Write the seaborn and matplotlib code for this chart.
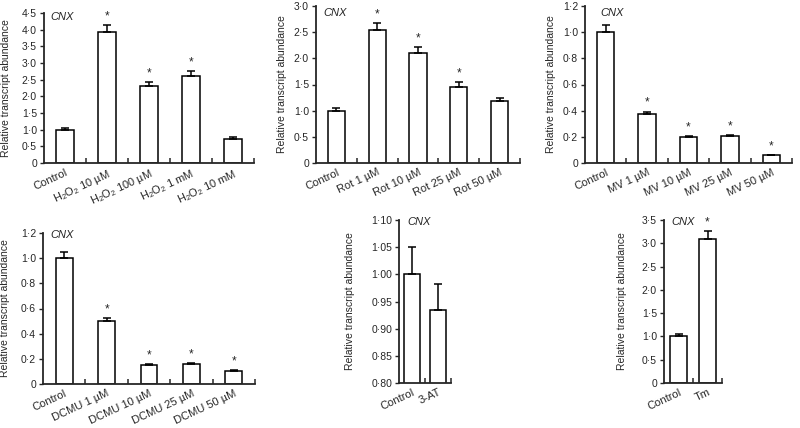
import matplotlib
matplotlib.use("Agg")
import matplotlib.pyplot as plt
from matplotlib.ticker import FixedLocator, FuncFormatter
import numpy as np
import pandas as pd
import seaborn as sns

# values
h2o2_labels = ["Control", "H$_2$O$_2$ 10 µM", "H$_2$O$_2$ 100 µM", "H$_2$O$_2$ 1 mM", "H$_2$O$_2$ 10 mM"]
h2o2_means = [1.0, 3.94, 2.31, 2.62, 0.73]
h2o2_err = [0.05, 0.19, 0.11, 0.13, 0.04]
h2o2_sig = [False, True, True, True, False]

rot_labels = ["Control", "Rot 1 µM", "Rot 10 µM", "Rot 25 µM", "Rot 50 µM"]
rot_means = [1.0, 2.55, 2.11, 1.46, 1.18]
rot_err = [0.05, 0.13, 0.10, 0.08, 0.06]
rot_sig = [False, True, True, True, False]

mv_labels = ["Control", "MV 1 µM", "MV 10 µM", "MV 25 µM", "MV 50 µM"]
mv_means = [1.0, 0.375, 0.197, 0.205, 0.06]
mv_err = [0.055, 0.018, 0.008, 0.008, 0.003]
mv_sig = [False, True, True, True, True]

dcmu_labels = ["Control", "DCMU 1 µM", "DCMU 10 µM", "DCMU 25 µM", "DCMU 50 µM"]
dcmu_means = [1.0, 0.50, 0.153, 0.160, 0.105]
dcmu_err = [0.05, 0.025, 0.007, 0.006, 0.005]
dcmu_sig = [False, True, True, True, True]

at_labels = ["Control", "3-AT"]
at_means = [1.0, 0.935]
at_err = [0.05, 0.048]
at_sig = [False, False]

tm_labels = ["Control", "Tm"]
tm_means = [1.0, 3.10]
tm_err = [0.05, 0.16]
tm_sig = [False, True]

W, H = 800, 428

sns.set_style("ticks")
plt.rcParams["font.family"] = ["Liberation Sans", "DejaVu Sans"]
plt.rcParams["mathtext.fontset"] = "custom"
plt.rcParams["mathtext.rm"] = "Liberation Sans"
plt.rcParams["mathtext.it"] = "Liberation Sans:italic"

fig = plt.figure(figsize=(W / 100, H / 100), dpi=100)


def add_axes(left, right, top, bottom):
    return fig.add_axes([left / W, 1 - bottom / H, (right - left) / W, (bottom - top) / H])


def fmt_tick(dec):
    def f(v, pos):
        if abs(v) < 1e-9:
            return "0"
        return f"{v:.{dec}f}".replace(".", "·")
    return f


def draw(ax, labels, means, err, sig, ymin, ymax, step, dec, width, box, cnx_pos, lab_x):
    left, right = box
    df = pd.DataFrame({"treatment": labels, "abundance": means})
    sns.barplot(data=df, x="treatment", y="abundance", ax=ax, color="white",
                edgecolor="black", linewidth=1.1, width=width, errorbar=None,
                saturation=1)
    x = np.arange(len(labels))
    ax.errorbar(x, means, yerr=[np.zeros(len(err)), err], fmt="none",
                ecolor="black", elinewidth=1.1, capsize=3.2, capthick=1.1, zorder=1)
    for i, s in enumerate(sig):
        if s:
            ax.annotate("*", xy=(i, means[i] + err[i]), xytext=(0, 2),
                        textcoords="offset points", ha="center", va="bottom", fontsize=8.5)
    ax.set_xlim(-0.5, len(labels) - 0.5)
    ax.set_ylim(ymin, ymax)
    ax.yaxis.set_major_locator(FixedLocator(np.round(np.arange(ymin, ymax + step / 2, step), 4)))
    ax.yaxis.set_major_formatter(FuncFormatter(fmt_tick(dec)))
    ax.xaxis.set_minor_locator(FixedLocator(np.arange(len(labels)) + 0.5))
    ax.tick_params(axis="x", which="major", length=0, pad=3, labelsize=8)
    ax.tick_params(axis="x", which="minor", direction="in", length=3.5, width=1.1)
    ax.tick_params(axis="y", direction="out", length=3, width=1.0, labelsize=7.5, pad=2)
    for lbl in ax.get_xticklabels():
        lbl.set_rotation(25)
        lbl.set_ha("right")
        lbl.set_rotation_mode("anchor")
    ax.set_xlabel("")
    ax.set_ylabel("Relative transcript abundance", fontsize=7.5)
    ax.yaxis.set_label_coords((lab_x - left) / (right - left), 0.5)
    for sp in ["left", "bottom"]:
        ax.spines[sp].set_linewidth(1.3)
    sns.despine(ax=ax)
    ax.text(cnx_pos[0], cnx_pos[1], "CNX", transform=ax.transAxes, fontsize=8,
            style="italic", ha="left", va="center")


panels = [
    (h2o2_labels, h2o2_means, h2o2_err, h2o2_sig, 0, 4.5, 0.5, 1, 0.42, (44, 254, 13, 163), (0.03, 0.97), 11),
    (rot_labels, rot_means, rot_err, rot_sig, 0, 3.0, 0.5, 1, 0.42, (316, 520, 6, 163), (0.035, 0.955), 287),
    (mv_labels, mv_means, mv_err, mv_sig, 0, 1.2, 0.2, 1, 0.42, (585, 792, 6, 163), (0.072, 0.955), 556),
    (dcmu_labels, dcmu_means, dcmu_err, dcmu_sig, 0, 1.2, 0.2, 1, 0.40, (43, 255, 233, 384), (0.033, 0.985), 10),
    (at_labels, at_means, at_err, at_sig, 0.8, 1.1, 0.05, 2, 0.6, (399, 451, 220, 383), (0.17, 0.988), 355),
    (tm_labels, tm_means, tm_err, tm_sig, 0, 3.5, 0.5, 1, 0.62, (664, 722, 220, 383), (0.12, 0.988), 627),
]

for labels, means, err, sig, ymin, ymax, step, dec, width, (l, r, t, b), cnx, lab_x in panels:
    ax = add_axes(l, r, t, b)
    draw(ax, labels, means, err, sig, ymin, ymax, step, dec, width, (l, r), cnx, lab_x)

fig.savefig("out.png", dpi=100, facecolor="white")
